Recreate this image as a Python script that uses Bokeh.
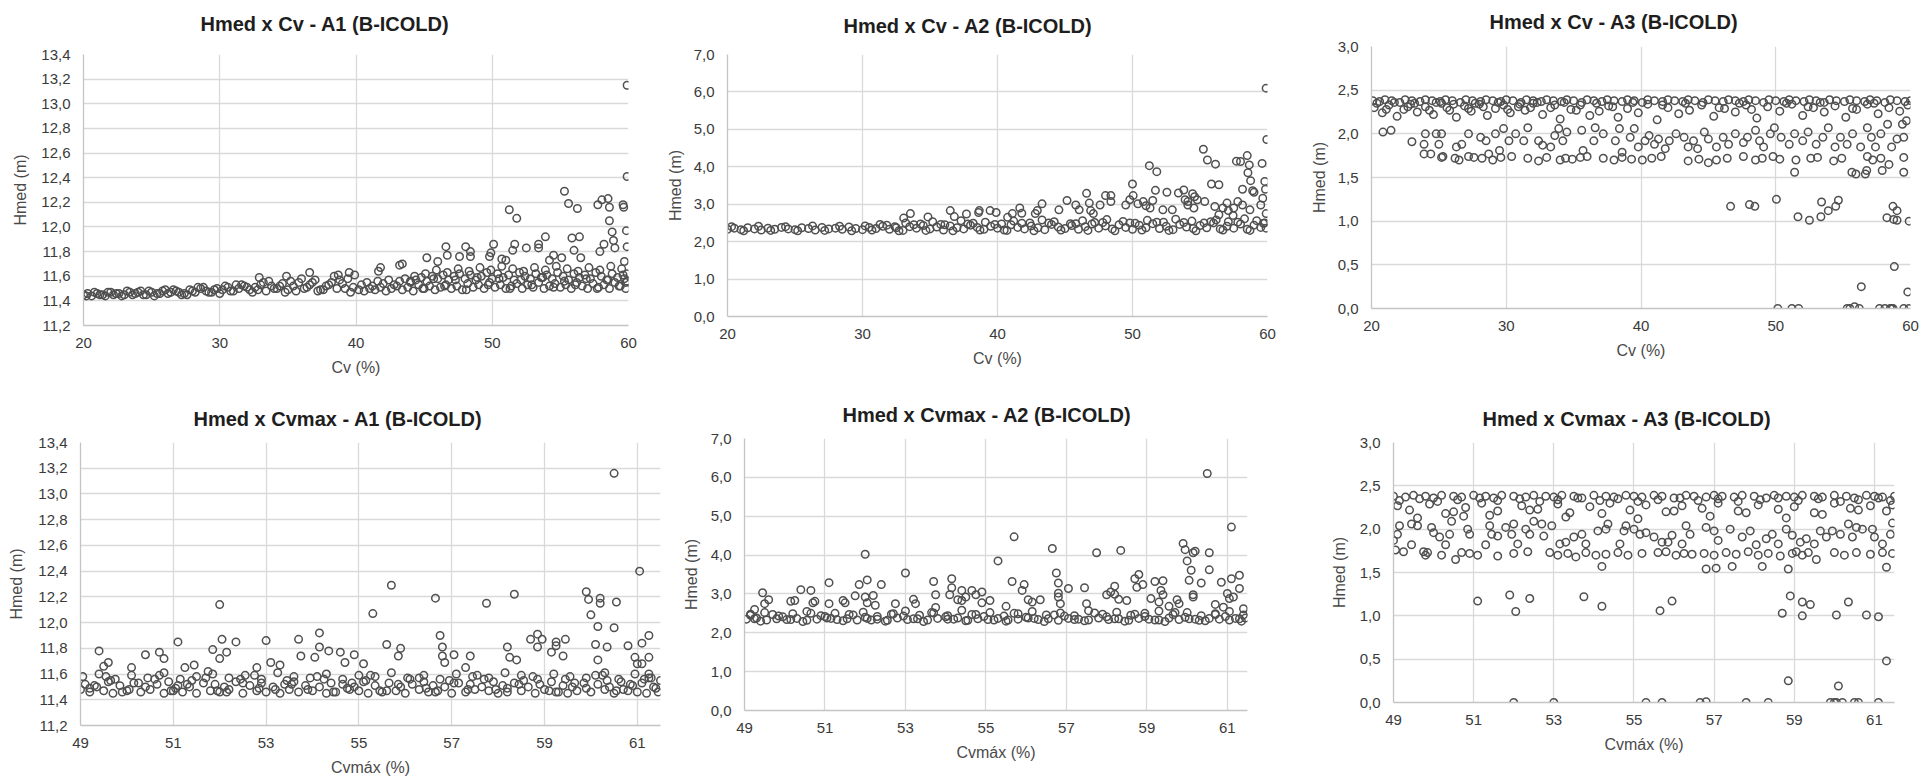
from bokeh.plotting import figure
from bokeh.models import Range1d, FixedTicker, CustomJSTickFormatter
from bokeh.embed import file_html
from bokeh.resources import INLINE

# ---------------- tick values ----------------
cv_ticks = [20, 30, 40, 50, 60]
cvmax_ticks = [49, 51, 53, 55, 57, 59, 61]
a1_ticks = [11.2, 11.4, 11.6, 11.8, 12.0, 12.2, 12.4, 12.6, 12.8, 13.0, 13.2, 13.4]
a2_ticks = [0, 1, 2, 3, 4, 5, 6, 7]
a3_ticks = [0, 0.5, 1.0, 1.5, 2.0, 2.5, 3.0]

# ---------------- A1 vs Cv ----------------
a1_cv_band1 = [20.0,20.3,20.6,21.0,21.4,21.8,22.2,22.6,23.0,23.4,23.8,24.2,24.6,25.0,25.4,25.8,26.2,26.6,27.0,27.4,
               27.8,28.2,28.6,29.0,29.4,29.8,30.2,30.6,31.0,31.4,31.8,32.2,32.6,33.0,33.4,33.8,34.2,34.6,35.0,35.4,
               35.8,36.2,36.6,37.0,37.4,37.8,38.2,38.6,39.0,39.4,39.8]
a1_h_band1 = [11.45,11.46,11.44,11.46,11.45,11.47,11.45,11.46,11.45,11.47,11.46,11.48,11.45,11.47,11.46,11.48,11.46,11.49,11.47,11.46,
              11.49,11.47,11.50,11.48,11.47,11.50,11.49,11.51,11.48,11.50,11.52,11.49,11.51,11.53,11.48,11.52,11.50,11.54,11.49,11.52,
              11.55,11.50,11.53,11.57,11.49,11.52,11.55,11.50,11.54,11.58,11.51]
a1_cv_band2 = [25.2,26.4,27.6,28.8,30.0,31.2,32.4,33.6,34.8,36.0,37.2,38.4,39.6]
a1_h_band2 = [11.44,11.47,11.45,11.51,11.46,11.53,11.47,11.56,11.47,11.58,11.48,11.60,11.47]
a1_cv_band2b = [20.2,20.8,21.2,21.6,22.0,22.4,22.8,23.2,23.6,24.0,24.4,24.8,25.6,26.0,26.8,27.2,28.0,28.4,29.2,29.6,
                30.4,30.8,31.6,32.0,32.8,33.2,34.0,34.4,35.2,35.6,36.4,36.8,37.6,38.0,38.8,39.2]
a1_h_band2b = [11.44,11.47,11.45,11.44,11.47,11.46,11.44,11.48,11.45,11.47,11.45,11.48,11.46,11.49,11.48,11.45,11.48,11.51,11.47,11.49,
               11.52,11.48,11.53,11.51,11.49,11.55,11.50,11.52,11.56,11.48,11.51,11.55,11.49,11.53,11.57,11.50]
a1_cv_band3 = [40.2,40.6,41.0,41.4,41.8,42.2,42.6,43.0,43.4,43.8,44.2,44.6,45.0,45.4,45.8,46.2,46.6,47.0,47.4,47.8,
               48.2,48.6,49.0,49.4,49.8,50.2,50.6,51.0,51.4,51.8,52.2,52.6,53.0,53.4,53.8,54.2,54.6,55.0,55.4,55.8,
               56.2,56.6,57.0,57.4,57.8,58.2,58.6,59.0,59.4,59.8]
a1_h_band3 = [11.49,11.48,11.50,11.49,11.51,11.48,11.50,11.52,11.49,11.51,11.48,11.53,11.50,11.52,11.49,11.51,11.53,11.50,11.52,11.49,
              11.54,11.51,11.53,11.50,11.55,11.51,11.53,11.50,11.52,11.54,11.50,11.53,11.51,11.55,11.50,11.52,11.54,11.51,11.53,11.50,
              11.55,11.52,11.50,11.54,11.51,11.53,11.50,11.55,11.52,11.50]
a1_cv_band4 = [40.4,40.8,41.2,41.6,42.0,42.4,42.8,43.2,43.6,44.0,44.4,44.8,45.2,45.6,46.0,46.4,46.8,47.2,47.6,48.0,
               48.4,48.8,49.2,49.6,50.0,50.4,50.8,51.2,51.6,52.0,52.4,52.8,53.2,53.6,54.0,54.4,54.8,55.2,55.6,56.0,
               56.4,56.8,57.2,57.6,58.0,58.4,58.8,59.2,59.6,59.9]
a1_h_band4 = [11.53,11.55,11.52,11.56,11.54,11.57,11.53,11.56,11.58,11.55,11.57,11.59,11.56,11.60,11.58,11.61,11.57,11.60,11.62,11.58,
              11.61,11.57,11.60,11.63,11.58,11.62,11.59,11.61,11.57,11.63,11.60,11.58,11.62,11.59,11.61,11.58,11.63,11.60,11.57,11.62,
              11.59,11.61,11.58,11.63,11.60,11.57,11.62,11.59,11.61,11.56]
a1_cv_band5 = [44.3,45.1,45.9,46.7,47.5,48.3,49.1,49.9,50.7,51.5,52.3,53.1,53.9,54.7,55.5,56.3,57.1,57.9,58.7,59.5]
a1_h_band5 = [11.60,11.62,11.65,11.63,11.66,11.64,11.67,11.65,11.68,11.66,11.64,11.67,11.65,11.68,11.66,11.64,11.67,11.65,11.68,11.66]
a1_cv_band6 = [44.0,44.9,45.7,46.5,47.3,48.1,48.9,49.7,50.5,51.3,52.1,52.9,53.7,54.5,55.3,56.1,56.9,57.7,58.5,59.3,59.7]
a1_h_band6 = [11.56,11.50,11.58,11.52,11.57,11.49,11.59,11.53,11.58,11.50,11.57,11.53,11.59,11.51,11.56,11.53,11.58,11.50,11.57,11.52,11.58]
a1_cv_out = [59.9,59.9,55.3,55.6,56.25,51.25,51.8,57.75,58.05,58.5,58.6,59.6,59.65,58.6,58.8,59.85,58.9,59.0,59.9,58.2,
             57.9,56.4,55.85,56.0,56.5,53.9,53.4,53.4,52.5,51.65,51.5,50.1,49.9,49.8,48.05,48.4,48.4,47.6,46.6,46.7,
             46.0,45.2,43.2,43.4,55.1,54.5,54.2,51.0,50.7,36.6,38.7,39.5,39.9,41.65,41.8,32.9,34.9,59.9,59.8,59.7]
a1_h_out = [13.15,12.41,12.29,12.19,12.15,12.14,12.07,12.18,12.22,12.23,12.16,12.18,12.16,12.05,11.96,11.97,11.89,11.83,11.84,11.86,
            11.80,11.92,11.91,11.81,11.75,11.92,11.86,11.83,11.83,11.86,11.81,11.86,11.79,11.76,11.84,11.80,11.76,11.76,11.84,11.77,
            11.72,11.75,11.69,11.70,11.75,11.77,11.73,11.73,11.74,11.63,11.61,11.63,11.61,11.64,11.67,11.59,11.60,11.62,11.55,11.72]

# ---------------- A2 vs Cv ----------------
a2_cv_band1 = [20.0,20.5,21.0,21.5,22.0,22.5,23.0,23.5,24.0,24.5,25.0,25.5,26.0,26.5,27.0,27.5,28.0,28.5,29.0,29.5,
               30.0,30.5,31.0,31.5,32.0,32.5,33.0,33.5,34.0,34.5,35.0,35.5,36.0,36.5,37.0,37.5,38.0,38.5,39.0,39.5,
               40.0,40.5,41.0,41.5,42.0,42.5,43.0,43.5,44.0,44.5,45.0,45.5,46.0,46.5,47.0,47.5,48.0,48.5,49.0,49.5,
               50.0,50.5,51.0,51.5,52.0,52.5,53.0,53.5,54.0,54.5,55.0,55.5,56.0,56.5,57.0,57.5,58.0,58.5,59.0,59.5,59.9]
a2_h_band1 = [2.33,2.36,2.32,2.37,2.34,2.31,2.36,2.33,2.38,2.34,2.32,2.37,2.35,2.31,2.38,2.34,2.36,2.33,2.39,2.35,
              2.32,2.38,2.35,2.41,2.33,2.37,2.30,2.40,2.36,2.43,2.34,2.39,2.31,2.42,2.37,2.34,2.44,2.38,2.33,2.41,
              2.36,2.31,2.45,2.38,2.34,2.42,2.37,2.32,2.46,2.39,2.35,2.43,2.33,2.40,2.47,2.36,2.42,2.34,2.45,2.38,
              2.33,2.44,2.37,2.48,2.35,2.41,2.32,2.46,2.39,2.35,2.43,2.37,2.50,2.34,2.41,2.36,2.47,2.33,2.44,2.38,2.36]
a2_cv_band2 = [30.2,31.3,32.4,33.2,34.3,35.2,36.1,37.3,38.2,39.1,40.3,41.2,42.4,43.3,44.2,45.4,46.3,47.2,48.1,49.3,
               50.2,51.1,52.3,53.2,54.4,55.3,56.2,57.1,58.3,59.2,59.7]
a2_h_band2 = [2.42,2.46,2.40,2.50,2.47,2.53,2.45,2.56,2.49,2.52,2.47,2.55,2.50,2.58,2.53,2.48,2.56,2.51,2.59,2.54,
              2.49,2.57,2.52,2.60,2.55,2.50,2.58,2.53,2.61,2.56,2.49]
a2_cv_band3 = [20.3,21.2,22.3,23.2,24.3,25.2,26.3,27.2,28.3,29.2,30.7,31.8,32.7,33.8,34.7,35.8,36.7,37.8,38.7,39.8,
               40.7,41.8,42.7,43.8,44.7,45.8,46.7,47.8,48.7,49.8,50.7,51.8,52.7,53.8,54.7,55.8,56.7,57.8,58.7,59.8]
a2_h_band3 = [2.40,2.29,2.41,2.30,2.40,2.29,2.42,2.30,2.41,2.29,2.31,2.44,2.29,2.45,2.30,2.46,2.29,2.47,2.31,2.46,
              2.30,2.49,2.29,2.50,2.31,2.48,2.30,2.51,2.29,2.50,2.31,2.52,2.30,2.51,2.29,2.53,2.31,2.52,2.30,2.50]
a2_cv_out = [59.9,59.95,55.25,55.55,56.15,51.25,51.8,58.5,57.7,58.0,58.65,59.6,58.55,58.75,59.8,59.85,50.0,55.85,56.4,58.15,
             58.9,59.0,46.6,48.0,48.4,48.4,50.05,51.7,52.55,53.4,53.8,54.45,54.6,55.35,54.8,54.1,45.15,43.3,45.8,46.05,
             46.8,47.6,49.5,49.8,50.4,50.8,51.0,51.5,51.3,52.25,52.95,54.1,53.9,54.55,56.1,56.7,57.0,57.1,57.5,57.8,
             58.15,58.7,59.5,59.65,59.9,57.45,56.4,42.95,42.8,41.65,41.8,41.1,40.75,39.9,39.45,38.6,38.65,37.7,36.5,36.8,
             33.55,33.05,34.85,44.55,46.9,47.1]
a2_h_out = [6.10,4.73,4.47,4.18,4.07,4.03,3.87,4.30,4.15,4.14,4.05,4.09,3.84,3.63,3.61,3.40,3.54,3.54,3.52,3.40,
            3.36,3.32,3.29,3.23,3.23,3.07,3.23,3.37,3.32,3.30,3.38,3.28,3.20,3.07,3.12,3.07,3.10,3.01,2.98,2.85,
            3.03,2.98,2.98,3.12,3.01,3.07,2.96,3.10,2.90,2.85,2.85,2.98,3.12,2.90,2.94,2.90,3.03,2.83,2.90,3.07,
            2.98,2.85,2.98,3.16,2.75,2.70,2.72,2.83,2.75,2.90,2.76,2.75,2.65,2.78,2.83,2.78,2.83,2.74,2.83,2.67,
            2.75,2.63,2.66,2.85,2.83,2.75]

# ---------------- A3 vs Cv ----------------
a3_cv_top = [20.1,20.6,21.0,21.5,22.1,22.5,23.0,23.6,24.0,24.5,25.1,25.5,26.0,26.6,27.0,27.5,28.1,28.5,29.0,29.6,
             30.0,30.5,31.1,31.5,32.0,32.6,33.0,33.5,34.1,34.5,35.0,35.6,36.0,36.5,37.1,37.5,38.0,38.6,39.0,39.5,
             40.1,40.5,41.0,41.6,42.0,42.5,43.1,43.5,44.0,44.6,45.0,45.5,46.1,46.5,47.0,47.6,48.0,48.5,49.1,49.5,
             50.0,50.6,51.0,51.5,52.1,52.5,53.0,53.6,54.0,54.5,55.1,55.5,56.0,56.6,57.0,57.5,58.1,58.5,59.0,59.6,60.0]
a3_h_top = [2.38,2.37,2.39,2.38,2.36,2.39,2.38,2.37,2.39,2.38,2.37,2.39,2.38,2.36,2.39,2.38,2.37,2.39,2.38,2.37,
            2.39,2.38,2.36,2.39,2.38,2.37,2.39,2.38,2.37,2.39,2.38,2.36,2.39,2.38,2.37,2.39,2.38,2.37,2.39,2.38,
            2.36,2.39,2.38,2.37,2.39,2.38,2.37,2.39,2.38,2.36,2.39,2.38,2.37,2.39,2.38,2.37,2.39,2.38,2.36,2.39,
            2.38,2.37,2.39,2.38,2.37,2.39,2.38,2.36,2.39,2.38,2.37,2.39,2.38,2.37,2.39,2.38,2.36,2.39,2.38,2.37,2.38]
a3_cv_top2 = [20.4,21.1,21.7,22.7,23.2,24.3,24.8,25.6,26.1,27.2,27.7,28.3,29.4,30.1,31.0,31.8,32.3,33.6,34.3,35.2,
              36.7,37.9,39.4,41.6,43.3,45.8,47.3,48.2,50.8,52.4,53.3,55.7,57.3]
a3_h_top2 = [2.35,2.28,2.36,2.31,2.35,2.27,2.36,2.30,2.34,2.29,2.35,2.31,2.36,2.28,2.34,2.30,2.36,2.33,2.36,2.27,
             2.35,2.31,2.36,2.33,2.35,2.30,2.35,2.28,2.35,2.31,2.36,2.29,2.35]
a3_cv_sub = [20.2,20.8,21.3,21.9,22.4,22.9,23.4,24.0,24.6,25.2,25.8,26.3,26.9,27.4,28.0,28.6,29.2,29.8,30.3,30.9,
             31.4,32.0,32.7,33.3,34.0,34.8,35.5,36.2,36.9,37.6,38.3,39.0,39.8,40.5,41.2,42.0,42.8,43.6,44.5,45.4,
             46.2,47.0,47.8,48.6,49.4,50.3,51.2,52.0,52.8,53.6,54.4,55.2,56.0,56.8,57.6,58.4,59.2,59.8]
a3_h_sub = [2.30,2.24,2.33,2.20,2.28,2.34,2.25,2.31,2.22,2.35,2.27,2.19,2.32,2.26,2.34,2.21,2.29,2.33,2.24,2.31,
            2.27,2.35,2.22,2.30,2.17,2.28,2.33,2.21,2.26,2.32,2.19,2.29,2.24,2.34,2.16,2.30,2.23,2.27,2.33,2.20,
            2.29,2.25,2.33,2.18,2.31,2.26,2.34,2.21,2.30,2.25,2.32,2.19,2.28,2.34,2.23,2.30,2.26,2.33]
a3_cv_mid = [20.85,21.45,23.0,23.9,23.9,24.0,24.4,24.8,25.2,25.3,25.0,26.3,26.7,27.2,28.1,28.5,28.7,29.2,29.5,29.8,
             30.2,30.7,31.3,31.6,32.4,32.7,33.3,33.6,33.9,34.2,34.5,35.6,35.7,36.6,36.5,37.2,38.1,38.4,38.6,39.2,
             39.5,39.8,40.3,40.6,41.0,41.3,41.8,42.1,42.6,43.2,43.5,43.9,44.2,44.7,45.0,45.6,46.1,46.5,47.0,47.6,
             47.9,48.5,48.8,49.1,49.6,49.9,50.4,51.0,51.4,52.0,52.4,53.0,53.5,53.9,54.4,54.8,55.3,55.7,56.3,56.8,
             57.1,57.4,57.8,58.3,58.6,59.0,59.5,59.7,59.4]
a3_h_mid = [2.02,2.04,1.91,1.77,1.88,2.00,1.77,2.00,2.00,1.74,1.88,1.85,1.88,2.00,1.96,1.92,1.77,2.00,1.81,2.06,
            1.92,2.00,1.92,2.07,1.92,1.87,1.85,1.98,2.06,1.92,2.02,2.04,1.81,2.07,1.92,2.00,1.92,2.06,1.79,1.96,
            2.06,1.85,1.92,1.98,1.88,1.94,1.83,1.92,2.00,1.96,1.85,1.92,1.83,2.02,1.94,1.85,1.96,1.88,2.00,1.90,
            1.96,2.04,1.92,1.85,2.00,2.07,1.96,1.88,2.00,1.92,2.02,1.88,1.96,2.07,1.85,1.96,1.88,2.00,1.85,2.07,
            1.96,1.85,2.00,2.11,1.85,1.94,1.96,2.15,2.11]
a3_cv_low17 = [25.2,26.2,26.5,27.2,27.6,28.2,29.0,29.6,30.4,31.6,32.4,33.0,34.0,34.4,34.9,35.5,36.0,37.2,38.0,38.6,
               39.3,40.1,40.8,41.5,43.5,44.3,45.0,45.6,46.4,47.6,48.5,49.0,49.8,50.3,51.5,52.6,53.1,54.3,54.9,56.8,
               57.2,57.8,59.5]
a3_h_low17 = [1.73,1.72,1.70,1.74,1.73,1.72,1.70,1.73,1.74,1.72,1.69,1.73,1.70,1.72,1.71,1.73,1.74,1.72,1.70,1.73,
              1.71,1.70,1.72,1.74,1.69,1.71,1.67,1.70,1.72,1.74,1.70,1.72,1.74,1.71,1.70,1.72,1.73,1.69,1.72,1.74,
              1.70,1.72,1.73]
a3_cv_out = [46.65,48.05,48.45,50.05,51.65,52.5,53.4,53.35,53.9,54.45,54.65,58.25,58.7,58.75,59.0,59.0,59.9,58.8,56.35,59.8,
             50.15,51.2,51.7,55.3,55.5,55.85,56.2,57.7,58.1,58.5,58.6,58.7,59.5,59.9,51.4,55.65,55.95,56.65,56.75,57.9,
             58.4,59.5]
a3_h_out = [1.17,1.19,1.17,1.25,1.05,1.01,1.22,1.05,1.12,1.17,1.24,1.04,1.17,1.02,1.12,1.01,1.00,0.48,0.25,0.19,
            0.00,0.00,0.00,0.00,0.00,0.02,0.00,0.00,0.00,0.00,0.00,0.00,0.00,0.00,1.56,1.56,1.54,1.54,1.58,1.58,
            1.65,1.56]

# ---------------- A1 vs Cvmax ----------------
b1_cv_rowa = [49.0,49.2,49.5,49.7,50.0,50.3,50.5,50.8,51.0,51.2,51.5,51.8,52.0,52.2,52.5,52.8,53.0,53.3,53.5,53.7,
              54.0,54.3,54.5,54.8,55.0,55.2,55.5,55.8,56.0,56.3,56.5,56.7,57.0,57.3,57.5,57.8,58.0,58.2,58.5,58.8,
              59.0,59.3,59.5,59.7,60.0,60.3,60.5,60.8,61.0,61.2,61.45]
b1_h_rowa = [11.48,11.46,11.47,11.45,11.47,11.46,11.48,11.45,11.47,11.46,11.45,11.47,11.46,11.48,11.45,11.47,11.46,11.45,11.48,11.46,
             11.47,11.45,11.46,11.48,11.47,11.45,11.46,11.47,11.45,11.48,11.46,11.47,11.45,11.46,11.48,11.47,11.45,11.46,11.47,11.45,
             11.48,11.46,11.45,11.47,11.46,11.48,11.45,11.47,11.46,11.45,11.46]
b1_cv_rowb = [49.1,49.35,49.6,49.85,50.15,50.4,50.65,50.9,51.1,51.35,51.65,51.9,52.1,52.35,52.65,52.9,53.15,53.4,53.6,53.85,
              54.15,54.4,54.65,54.9,55.1,55.35,55.65,55.9,56.15,56.4,56.6,56.85,57.15,57.4,57.65,57.9,58.1,58.35,58.65,58.9,
              59.15,59.4,59.6,59.85,60.15,60.4,60.65,60.9,61.1,61.35,61.5]
b1_h_rowb = [11.52,11.50,11.54,11.51,11.53,11.50,11.52,11.54,11.51,11.50,11.53,11.52,11.50,11.54,11.51,11.53,11.50,11.52,11.54,11.51,
             11.50,11.53,11.52,11.50,11.54,11.51,11.53,11.50,11.52,11.54,11.51,11.50,11.53,11.52,11.50,11.54,11.51,11.53,11.50,11.52,
             11.54,11.51,11.50,11.53,11.52,11.50,11.54,11.51,11.53,11.50,11.55]
b1_cv_rowc = [49.05,49.4,49.75,50.1,50.45,50.8,51.15,51.5,51.85,52.2,52.55,52.9,53.25,53.6,53.95,54.3,54.65,55.0,55.35,55.7,
              56.05,56.4,56.75,57.1,57.45,57.8,58.15,58.5,58.85,59.2,59.55,59.9,60.25,60.6,60.95,61.3]
b1_h_rowc = [11.58,11.60,11.56,11.59,11.57,11.61,11.56,11.58,11.60,11.57,11.59,11.56,11.61,11.58,11.57,11.60,11.56,11.59,11.58,11.61,
             11.57,11.59,11.56,11.60,11.58,11.57,11.61,11.59,11.56,11.60,11.58,11.57,11.59,11.56,11.60,11.57]
b1_cv_rowd = [49.2,49.65,50.05,50.6,51.05,51.4,51.95,52.45,52.85,53.45,53.9,54.25,54.75,55.15,55.6,56.1,56.45,56.95,57.35,57.7,
              58.2,58.55,59.1,59.45,59.9,60.35,60.7,61.15,61.4]
b1_h_rowd = [11.49,11.55,11.48,11.56,11.49,11.55,11.47,11.56,11.49,11.55,11.48,11.56,11.49,11.55,11.47,11.56,11.49,11.55,11.48,11.56,
             11.49,11.55,11.47,11.56,11.49,11.55,11.48,11.56,11.49]
b1_cv_rowe = [49.3,49.55,49.9,50.25,50.7,50.95,51.3,51.7,52.15,52.5,52.75,53.2,53.55,54.1,54.45,54.85,55.25,55.45,55.85,56.3,
              56.65,57.05,57.55,57.95,58.45,58.75,59.25,59.65,60.1,60.55,60.85,61.25]
b1_h_rowe = [11.51,11.58,11.46,11.53,11.59,11.47,11.52,11.57,11.46,11.53,11.59,11.48,11.52,11.58,11.46,11.53,11.59,11.47,11.52,11.57,
             11.46,11.53,11.59,11.48,11.52,11.58,11.46,11.53,11.59,11.47,11.52,11.57]
b1_cv_out = [49.5,49.4,49.6,50.1,50.4,50.7,50.8,51.1,51.25,51.45,51.75,51.85,52.0,52.05,52.0,52.15,52.35,52.8,53.0,53.1,
             53.3,53.7,53.75,54.05,54.15,54.15,54.35,54.6,54.7,54.9,55.1,55.3,55.6,55.7,55.85,55.9,56.65,56.75,56.8,56.8,
             56.85,57.05,57.4,57.3,57.75,58.2,58.35,58.25,58.4,58.7,58.85,58.85,58.95,59.15,59.25,59.25,59.4,59.45,59.9,59.95,
             60.0,60.15,60.1,60.15,60.2,60.2,60.3,60.35,60.5,60.55,60.5,60.8,60.95,61.05,61.1,61.0,61.1,61.25,61.25,61.25]
b1_h_out = [11.66,11.78,11.69,11.65,11.75,11.77,11.72,11.85,11.65,11.67,11.62,11.79,12.14,11.87,11.72,11.77,11.85,11.65,11.86,11.69,
            11.67,11.87,11.74,11.73,11.92,11.81,11.78,11.77,11.69,11.75,11.68,12.07,11.83,12.29,11.74,11.80,12.19,11.90,11.81,11.74,
            11.69,11.75,11.74,11.65,12.15,11.81,12.22,11.73,11.71,11.87,11.91,11.81,11.87,11.77,11.85,11.82,11.74,11.87,12.24,12.18,
            12.06,11.97,11.83,11.71,12.15,12.19,11.61,11.81,13.16,12.16,11.96,11.82,11.73,12.40,11.84,11.68,11.68,11.60,11.90,11.73]

# ---------------- A2 vs Cvmax ----------------
b2_cv_rowa = [49.05,49.3,49.55,49.8,50.05,50.3,50.55,50.8,51.05,51.3,51.55,51.8,52.05,52.3,52.55,52.8,53.05,53.3,53.55,53.8,
              54.05,54.3,54.55,54.8,55.05,55.3,55.55,55.8,56.05,56.3,56.55,56.8,57.05,57.3,57.55,57.8,58.05,58.3,58.55,58.8,
              59.05,59.3,59.55,59.8,60.05,60.3,60.55,60.8,61.05,61.3,61.45]
b2_h_rowa = [2.35,2.38,2.33,2.36,2.34,2.37,2.32,2.35,2.38,2.34,2.36,2.33,2.37,2.35,2.32,2.38,2.34,2.36,2.33,2.37,
             2.35,2.38,2.32,2.36,2.34,2.37,2.33,2.35,2.38,2.34,2.36,2.32,2.37,2.35,2.33,2.38,2.34,2.36,2.32,2.37,
             2.35,2.33,2.38,2.34,2.36,2.32,2.37,2.35,2.33,2.36,2.38]
b2_cv_rowb = [49.15,49.5,49.85,50.2,50.55,50.9,51.25,51.6,51.95,52.3,52.65,53.0,53.35,53.7,54.05,54.4,54.75,55.1,55.45,55.8,
              56.15,56.5,56.85,57.2,57.55,57.9,58.25,58.6,58.95,59.3,59.65,60.0,60.35,60.7,61.05,61.4]
b2_h_rowb = [2.45,2.52,2.43,2.49,2.55,2.44,2.50,2.47,2.53,2.42,2.48,2.56,2.45,2.51,2.44,2.58,2.47,2.52,2.43,2.49,
             2.55,2.46,2.51,2.44,2.57,2.48,2.53,2.45,2.50,2.56,2.47,2.52,2.44,2.49,2.55,2.46]
b2_cv_rowc = [49.4,49.95,50.45,51.0,51.45,52.0,52.5,52.95,53.45,54.0,54.5,54.95,55.5,56.0,56.45,56.95,57.45,58.0,58.45,58.95,
              59.45,59.95,60.45,60.95,61.35]
b2_h_rowc = [2.30,2.41,2.29,2.42,2.31,2.40,2.30,2.43,2.29,2.41,2.31,2.42,2.30,2.40,2.29,2.43,2.31,2.41,2.30,2.42,
             2.29,2.40,2.31,2.42,2.30]
b2_cv_rowd = [49.25,49.7,50.15,50.65,51.15,51.7,52.15,52.7,53.2,53.65,54.2,54.65,55.2,55.7,56.2,56.7,57.2,57.7,58.2,58.7,
              59.2,59.7,60.2,60.7,61.2]
b2_h_rowd = [2.36,2.47,2.34,2.50,2.37,2.46,2.33,2.49,2.36,2.52,2.35,2.47,2.33,2.50,2.37,2.46,2.34,2.51,2.36,2.48,
             2.33,2.52,2.35,2.47,2.37]
b2_cv_out = [49.45,49.15,49.25,49.5,49.6,50.15,50.25,50.4,50.65,50.7,50.75,51.1,51.1,51.45,51.5,51.75,51.85,52.0,52.05,52.05,
             52.0,52.2,52.25,52.4,52.75,53.0,53.2,53.25,53.7,53.75,53.75,54.1,54.15,54.15,54.3,54.4,54.4,54.5,54.65,54.75,
             54.9,54.9,55.1,55.3,55.5,55.65,55.7,55.9,55.95,56.05,56.15,56.35,56.65,56.75,56.8,56.8,56.8,56.85,57.05,57.45,
             57.5,57.75,58.0,58.1,58.2,58.2,58.3,58.35,58.5,58.7,58.8,58.75,58.9,59.1,59.2,59.3,59.35,59.4,59.4,59.55,
             59.75,59.8,59.9,59.95,60.0,60.05,60.1,60.15,60.15,60.15,60.2,60.35,60.5,60.55,60.55,60.7,60.85,60.9,61.0,61.05,
             61.1,61.1,61.15,61.3,61.3,61.4]
b2_h_out = [3.03,2.48,2.60,2.75,2.85,2.81,2.83,3.11,3.09,2.77,2.81,2.75,3.29,2.83,2.77,2.95,3.24,4.02,3.36,2.77,
            2.92,2.96,2.71,3.24,2.75,3.54,2.86,2.75,3.32,2.98,2.65,2.98,3.39,3.16,2.85,2.83,3.09,2.92,3.09,2.98,
            2.77,3.05,2.83,3.85,2.68,3.32,4.47,3.09,3.24,2.85,2.79,2.85,4.17,3.54,3.28,3.02,2.92,2.75,3.14,3.16,
            2.75,4.06,2.98,3.05,3.20,2.99,2.86,4.12,2.83,3.39,3.50,3.17,3.24,2.88,3.32,2.79,3.09,3.34,2.98,2.68,
            2.85,2.75,4.30,4.14,3.85,3.35,3.61,2.98,2.92,4.06,4.10,3.28,6.10,4.06,3.62,2.73,3.30,2.66,3.01,2.88,
            4.72,3.39,2.92,3.48,3.14,2.62]

# ---------------- A3 vs Cvmax ----------------
b3_cv_top = [49.0,49.3,49.5,49.8,50.0,50.2,50.5,50.7,51.0,51.3,51.5,51.7,52.0,52.3,52.5,52.8,53.0,53.2,53.5,53.7,
             54.0,54.3,54.5,54.8,55.0,55.2,55.5,55.7,56.0,56.3,56.5,56.8,57.0,57.2,57.5,57.7,58.0,58.3,58.5,58.8,
             59.0,59.2,59.5,59.7,60.0,60.3,60.5,60.8,61.0,61.2,61.5]
b3_h_top = [2.38,2.37,2.39,2.38,2.36,2.39,2.38,2.37,2.39,2.38,2.36,2.39,2.38,2.37,2.39,2.38,2.37,2.39,2.38,2.36,
            2.39,2.38,2.37,2.39,2.38,2.37,2.39,2.38,2.36,2.39,2.38,2.37,2.39,2.38,2.37,2.39,2.38,2.36,2.39,2.38,
            2.37,2.39,2.38,2.37,2.39,2.38,2.36,2.39,2.38,2.37,2.38]
b3_cv_top2 = [49.15,49.65,50.1,50.6,51.15,51.6,52.15,52.65,53.1,53.6,54.15,54.6,55.1,55.6,56.15,56.6,57.1,57.6,58.15,58.6,
              59.1,59.6,60.15,60.6,61.1,61.4]
b3_h_top2 = [2.33,2.35,2.32,2.34,2.36,2.33,2.35,2.32,2.34,2.36,2.33,2.35,2.32,2.34,2.36,2.33,2.35,2.32,2.34,2.36,
             2.33,2.35,2.32,2.34,2.36,2.33]
b3_cv_sub = [49.1,49.4,49.9,50.3,50.8,51.2,51.6,52.2,52.6,53.1,53.4,53.9,54.4,54.9,55.3,55.8,56.2,56.7,57.1,57.6,
             58.1,58.6,59.0,59.5,60.0,60.4,60.9,61.3,49.6,50.5,51.4,52.4,53.3,54.2,55.1,56.0,56.9,57.8,58.8,59.7,
             60.6,61.45]
b3_h_sub = [2.27,2.22,2.29,2.18,2.25,2.30,2.21,2.27,2.23,2.29,2.19,2.26,2.30,2.22,2.28,2.20,2.27,2.24,2.30,2.21,
            2.28,2.23,2.26,2.19,2.30,2.24,2.27,2.21,2.13,2.20,2.16,2.22,2.14,2.18,2.12,2.21,2.15,2.19,2.13,2.17,
            2.22,2.28]
b3_cv_mid = [49.0,49.1,49.15,49.05,49.25,49.45,49.45,49.6,49.75,49.8,49.95,50.0,50.15,50.3,50.4,50.45,50.75,50.85,50.9,51.3,
             51.4,51.45,51.6,51.8,51.95,52.0,52.1,52.3,52.4,52.5,52.7,52.75,52.95,53.15,53.3,53.5,53.7,53.8,54.1,54.3,
             54.35,54.65,54.75,54.8,55.0,55.15,55.3,55.5,55.7,55.85,55.95,56.2,56.3,56.4,56.8,57.0,57.1,57.4,57.7,57.9,
             58.05,58.3,58.45,58.6,58.8,58.95,59.15,59.3,59.5,59.65,59.8,59.95,60.15,60.35,60.45,60.55,60.7,60.95,61.0,61.2,
             61.4,61.45]
b3_h_mid = [1.87,1.94,2.04,1.76,1.74,2.06,1.82,2.04,1.74,1.70,2.02,1.96,1.91,1.82,1.94,2.09,2.15,2.00,1.94,1.82,
            2.04,1.94,1.92,2.02,1.94,2.06,1.83,2.00,1.94,2.09,2.06,1.92,2.04,1.83,1.85,1.91,1.94,1.83,1.98,2.00,
            2.06,1.83,1.98,2.04,2.00,1.94,1.96,1.91,1.85,1.85,1.93,1.83,2.04,1.94,2.02,1.98,1.87,2.00,1.91,1.98,
            1.82,1.89,1.94,1.83,2.00,1.93,1.85,1.89,1.83,1.98,1.91,1.98,1.94,2.06,1.91,2.02,2.00,2.00,1.91,1.83,
            1.94,2.07]
b3_cv_low17 = [49.85,50.2,50.55,50.7,50.9,51.1,51.6,52.0,52.35,52.9,53.1,53.35,53.55,53.8,54.05,54.3,54.6,54.85,55.2,55.6,
               55.8,56.05,56.25,56.45,56.75,57.0,57.3,57.55,57.85,58.1,58.35,58.65,58.95,59.05,59.2,59.35,59.55,60.0,60.25,60.55,
               60.9,61.2,61.45]
b3_h_low17 = [1.73,1.70,1.65,1.73,1.72,1.70,1.69,1.72,1.74,1.73,1.70,1.72,1.68,1.73,1.70,1.71,1.73,1.70,1.72,1.73,
              1.74,1.70,1.72,1.71,1.72,1.70,1.73,1.71,1.74,1.70,1.72,1.69,1.72,1.74,1.70,1.73,1.65,1.73,1.70,1.73,
              1.71,1.73,1.72]
b3_cv_out = [51.1,51.9,52.05,52.4,53.75,54.2,55.65,55.95,58.7,58.9,59.2,59.2,59.4,60.05,60.35,60.8,61.1,61.3,58.85,60.1,
             52.0,53.0,55.3,55.7,56.65,56.8,57.8,58.35,59.9,60.0,60.05,60.2,60.5,60.6,61.1,54.2,56.8,57.05,57.45,58.2,
             58.85,61.3]
b3_h_out = [1.17,1.24,1.05,1.20,1.22,1.11,1.06,1.17,1.03,1.23,1.16,1.00,1.13,1.01,1.16,1.01,0.99,0.48,0.25,0.19,
            0.00,0.00,0.00,0.00,0.00,0.01,0.00,0.00,0.00,0.00,0.00,0.00,0.00,0.00,0.00,1.57,1.54,1.55,1.57,1.57,
            1.54,1.56]

# ---------------- drawing ----------------
FONT = "Liberation Sans"
MARK = "#505050"
fmt = CustomJSTickFormatter(code="return tick.toFixed(1).replace('.', ',');")
fmt_int = CustomJSTickFormatter(code="return String(Math.round(tick));")
TITLE_H = 23


def panel(title, xlabel, xr, yr, xticks, yticks, series, pos, bl, fw, br, bt, fh, bb, toff, ylab_off):
    left, top = pos
    W = bl + fw + br
    H = bt + fh + bb
    p = figure(width=W, height=H, x_range=Range1d(*xr), y_range=Range1d(*yr),
               output_backend="svg", toolbar_location=None, title=title,
               min_border_left=bl, min_border_top=bt, min_border_right=br, min_border_bottom=bb,
               styles={"position": "absolute", "left": "%dpx" % left, "top": "%dpx" % top})
    p.outline_line_color = None
    p.background_fill_color = "white"
    p.border_fill_color = "white"
    p.title.text_font = FONT
    p.title.text_font_size = "20px"
    p.title.text_font_style = "bold"
    p.title.text_color = "#1e1e1e"
    p.title.align = "left"
    p.title.vertical_align = "middle"
    p.title.offset = toff
    p.title.standoff = max(bt - 3 - TITLE_H, 0)
    p.xaxis.ticker = FixedTicker(ticks=xticks)
    p.yaxis.ticker = FixedTicker(ticks=yticks)
    p.xaxis.formatter = fmt_int
    p.yaxis.formatter = fmt
    p.xaxis.axis_label = xlabel
    p.yaxis.axis_label = "Hmed (m)"
    for ax in (p.xaxis[0], p.yaxis[0]):
        ax.major_tick_line_color = None
        ax.minor_tick_line_color = None
        ax.major_tick_out = 0
        ax.major_tick_in = 0
        ax.axis_line_color = "#c4c4c4"
        ax.axis_line_width = 1.3
        ax.major_label_text_font = FONT
        ax.major_label_text_font_size = "15px"
        ax.major_label_text_color = "#3a3a3a"
        ax.axis_label_text_font = FONT
        ax.axis_label_text_font_size = "16px"
        ax.axis_label_text_font_style = "normal"
        ax.axis_label_text_color = "#4a4a4a"
    p.xaxis.major_label_standoff = 12
    p.yaxis.major_label_standoff = 13
    p.xaxis.axis_label_standoff = 8
    p.yaxis.axis_label_standoff = ylab_off
    for g in (p.xgrid[0], p.ygrid[0]):
        g.grid_line_color = "#d9d9d9"
        g.grid_line_width = 1.3
    for xs, ys in series:
        n = min(len(xs), len(ys))
        p.scatter(xs[:n], ys[:n], marker="circle", size=7.5, fill_color=None,
                  line_color=MARK, line_width=1.5)
    return p


f1 = panel("Hmed x Cv - A1 (B-ICOLD)", "Cv (%)", (20, 60), (11.2, 13.4), cv_ticks, a1_ticks,
           [(a1_cv_band1, a1_h_band1), (a1_cv_band2, a1_h_band2), (a1_cv_band2b, a1_h_band2b),
            (a1_cv_band3, a1_h_band3), (a1_cv_band4, a1_h_band4), (a1_cv_band5, a1_h_band5),
            (a1_cv_band6, a1_h_band6), (a1_cv_out, a1_h_out)],
           (0, -10), 83, 545, 22, 64, 271, 64, 117, 9)
f2 = panel("Hmed x Cv - A2 (B-ICOLD)", "Cv (%)", (20, 60), (0, 7), cv_ticks, a2_ticks,
           [(a2_cv_band1, a2_h_band1), (a2_cv_band2, a2_h_band2), (a2_cv_band3, a2_h_band3),
            (a2_cv_out, a2_h_out)],
           (650, -5), 77, 540, 28, 59, 262, 65, 116, 7)
f3 = panel("Hmed x Cv - A3 (B-ICOLD)", "Cv (%)", (20, 60), (0, 3), cv_ticks, a3_ticks,
           [(a3_cv_top, a3_h_top), (a3_cv_top2, a3_h_top2), (a3_cv_sub, a3_h_sub), (a3_cv_mid, a3_h_mid),
            (a3_cv_low17, a3_h_low17), (a3_cv_out, a3_h_out)],
           (1295, -6), 76, 539, 12, 52, 262, 65, 118, 7)
f4 = panel("Hmed x Cvmax - A1 (B-ICOLD)", "Cvmáx (%)", (49, 61.5), (11.2, 13.4), cvmax_ticks, a1_ticks,
           [(b1_cv_rowa, b1_h_rowa), (b1_cv_rowb, b1_h_rowb), (b1_cv_rowc, b1_h_rowc), (b1_cv_rowd, b1_h_rowd),
            (b1_cv_rowe, b1_h_rowe), (b1_cv_out, b1_h_out)],
           (0, 393), 80, 580, 15, 49, 283, 54, 113, 10)
f5 = panel("Hmed x Cvmax - A2 (B-ICOLD)", "Cvmáx (%)", (49, 61.5), (0, 7), cvmax_ticks, a2_ticks,
           [(b2_cv_rowa, b2_h_rowa), (b2_cv_rowb, b2_h_rowb), (b2_cv_rowc, b2_h_rowc), (b2_cv_rowd, b2_h_rowd),
            (b2_cv_out, b2_h_out)],
           (675, 388), 69, 503, 73, 50, 272, 69, 98, 8)
f6 = panel("Hmed x Cvmax - A3 (B-ICOLD)", "Cvmáx (%)", (49, 61.5), (0, 3), cvmax_ticks, a3_ticks,
           [(b3_cv_top, b3_h_top), (b3_cv_top2, b3_h_top2), (b3_cv_sub, b3_h_sub), (b3_cv_mid, b3_h_mid),
            (b3_cv_low17, b3_h_low17), (b3_cv_out, b3_h_out)],
           (1320, 392), 73, 501, 28, 50, 260, 77, 89, 9)

p = [f1, f2, f3, f4, f5, f6]
open("out.html", "w").write(file_html(p, INLINE))
